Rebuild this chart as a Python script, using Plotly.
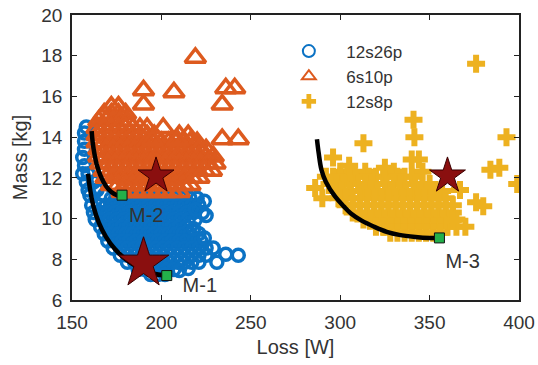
import plotly.graph_objects as go

# ---------------- data ----------------
# 12s26p (blue circles): rows of (mass, [loss values])
blue_rows = [
    (14.5, [158]), (14.2, [157]), (13.8, [157]), (13.4, [157]), (13.0, [156]),
    (12.6, [157]), (12.2, [156, 159]), (11.8, [158, 162]), (11.4, [159, 164]),
    (11.15, [160, 168]),
    (11.0, [172, 176, 180, 184, 188, 192, 196, 200, 204, 208, 212, 216, 220]),
    (10.65, [161, 165, 169, 173, 177, 181, 185, 189, 193, 197, 201, 205, 209, 213, 217, 221]),
    (10.3, [162, 166, 170, 174, 178, 182, 186, 190, 194, 198, 202, 206, 210, 214, 218, 223]),
    (9.95, [163, 167, 171, 175, 179, 183, 187, 191, 195, 199, 203, 207, 211, 215, 219]),
    (9.6, [166, 170, 174, 178, 182, 186, 190, 194, 198, 202, 206, 210, 214]),
    (9.25, [168, 172, 176, 180, 184, 188, 192, 196, 200, 204, 208, 212, 216, 221]),
    (8.9, [170, 174, 178, 182, 186, 190, 194, 198, 202, 206, 210, 214, 218, 222]),
    (8.55, [173, 177, 181, 185, 189, 193, 197, 201, 205, 209, 213, 217, 221, 225]),
    (8.2, [177, 181, 185, 189, 193, 197, 201, 205, 209, 213, 217, 221, 225]),
    (7.85, [181, 185, 189, 193, 197, 201, 205, 209, 213, 217, 221]),
    (7.5, [187, 191, 195, 199, 203, 207]),
    (7.25, [194, 198, 202]),
]
blue_extra_loss = [224, 219, 225, 218, 224, 229, 243, 236, 231, 215, 210]
blue_extra_mass = [10.85, 10.45, 10.15, 9.5, 9.05, 8.55, 8.2, 8.25, 7.85, 7.55, 7.45]

# 6s10p (orange triangles)
orange_rows = [
    (15.5, [172, 176]),
    (15.15, [168, 172, 176, 180]),
    (14.8, [165, 169, 173, 177, 181]),
    (14.45, [164, 168, 172, 176, 180, 184, 188]),
    (14.1, [164, 168, 172, 176, 180, 184, 188, 192, 196, 210, 215]),
    (13.75, [164, 168, 172, 176, 180, 184, 188, 192, 196, 200, 204, 208, 212, 216, 220]),
    (13.4, [165, 169, 173, 177, 181, 185, 189, 193, 197, 201, 205, 209, 213, 217, 221, 225]),
    (13.05, [165, 169, 173, 177, 181, 185, 189, 193, 197, 201, 205, 209, 213, 217, 221, 225, 229]),
    (12.7, [166, 170, 174, 178, 182, 186, 190, 194, 198, 202, 206, 210, 214, 218, 222, 226, 230]),
    (12.35, [168, 172, 176, 180, 184, 188, 192, 196, 200, 204, 208, 212, 216, 220, 224, 228]),
    (12.0, [169, 173, 177, 181, 185, 189, 193, 197, 201, 205, 209, 213, 217, 221]),
    (11.65, [172, 176, 180, 184, 188, 192, 196, 200, 204, 208, 212, 216]),
    (11.3, [178, 182, 186, 190, 194, 198, 202, 206, 210]),
]
orange_extra_loss = [219, 190, 190, 207, 236, 241, 234, 234, 243, 192, 201, 195, 209]
orange_extra_mass = [17.9, 16.3, 15.6, 16.2, 16.4, 16.4, 15.6, 13.9, 13.9, 14.45, 14.45, 13.85, 13.85]

# 12s8p (yellow plus)
yellow_rows = [
    (12.3, [300, 314, 330, 346]),
    (12.05, [292, 296, 300, 304, 308, 316, 320, 324, 332, 336, 340]),
    (11.7, [294, 298, 302, 306, 310, 314, 318, 326, 330, 334, 342, 346, 350]),
    (11.35, [297, 301, 305, 313, 317, 321, 325, 329, 333, 337, 341, 345, 349, 353, 357]),
    (11.0, [299, 303, 307, 311, 315, 319, 323, 327, 331, 335, 339, 343, 347, 351, 355, 359]),
    (10.65, [303, 307, 311, 315, 319, 323, 327, 331, 335, 339, 343, 347, 351, 355, 359, 363]),
    (10.3, [307, 311, 315, 319, 323, 327, 331, 335, 339, 343, 347, 351, 355, 359, 363]),
    (9.95, [313, 317, 321, 325, 329, 333, 337, 341, 345, 349, 353, 357, 361, 365]),
    (9.6, [320, 324, 328, 332, 336, 340, 344, 348, 352, 356, 360, 365, 370]),
    (9.3, [328, 332, 336, 340, 344, 348, 352, 356]),
]
yellow_extra_loss = [376, 341, 341.5, 313, 296, 340, 344, 393, 399, 384, 389, 376, 380, 367, 363, 305, 325, 286, 290]
yellow_extra_mass = [17.6, 14.85, 14.0, 13.7, 13.0, 12.9, 12.9, 14.0, 11.7, 12.4, 12.5, 10.8, 10.6, 11.4, 9.9, 12.6, 12.5, 11.5, 11.0]

# Pareto fronts
front1_loss = [159, 160, 162, 165, 169, 174, 180, 187, 195, 203]
front1_mass = [12.2, 11.5, 10.6, 9.8, 9.1, 8.5, 8.0, 7.6, 7.3, 7.2]
front2_loss = [161, 161.5, 162.5, 164, 166, 169, 172, 175, 178]
front2_mass = [14.3, 13.8, 13.2, 12.6, 12.1, 11.6, 11.3, 11.15, 11.1]
front3_loss = [287, 288, 289.5, 292, 297, 302, 306, 312, 319, 326, 333, 342, 350, 355]
front3_mass = [13.9, 13.2, 12.4, 11.8, 11.1, 10.6, 10.25, 9.9, 9.6, 9.35, 9.2, 9.1, 9.05, 9.05]

# selected designs
sel_loss = [203, 178, 355.5]
sel_mass = [7.2, 11.15, 9.05]
sel_labels = ["M-1", "M-2", "M-3"]
label_loss = [221.5, 191.5, 368.5]
label_mass = [6.65, 10.1, 7.8]

# stars
star_loss = [190, 197, 360]
star_mass = [7.8, 12.1, 12.1]
star_size = [38, 27, 27]

x_ticks = [150, 200, 250, 300, 350, 400]
y_ticks = [6, 8, 10, 12, 14, 16, 18, 20]


def flatten(rows, ex_l, ex_m):
    L, M = [], []
    for m, ls in rows:
        for l in ls:
            L.append(l)
            M.append(m)
    return L + ex_l, M + ex_m


bl, bm = flatten(blue_rows, blue_extra_loss, blue_extra_mass)
ol, om = flatten(orange_rows, orange_extra_loss, orange_extra_mass)
yl, ym = flatten(yellow_rows, yellow_extra_loss, yellow_extra_mass)

BLUE = "#0b72c4"
ORANGE = "#dd5a1e"
YELLOW = "#edb120"
FONT = "Liberation Sans, Arial, sans-serif"
TXT = "#333333"

fig = go.Figure()
fig.add_trace(go.Scatter(x=bl, y=bm, mode="markers", name="12s26p",
                         marker=dict(symbol="circle-open", size=12, color=BLUE, opacity=1,
                                     line=dict(width=3.5, color=BLUE))))
fig.add_trace(go.Scatter(x=ol, y=om, mode="markers", name="6s10p",
                         marker=dict(symbol="triangle-up-open", size=18, color=ORANGE, opacity=1,
                                     line=dict(width=3.5, color=ORANGE))))
fig.add_trace(go.Scatter(x=yl, y=ym, mode="markers", name="12s8p",
                         marker=dict(symbol="cross", size=15, color=YELLOW, opacity=1,
                                     line=dict(width=0))))
for fl, fm in [(front1_loss, front1_mass), (front2_loss, front2_mass), (front3_loss, front3_mass)]:
    fig.add_trace(go.Scatter(x=fl, y=fm, mode="lines", showlegend=False,
                             line=dict(color="black", width=4.5, shape="spline")))
fig.add_trace(go.Scatter(x=star_loss, y=star_mass, mode="markers", showlegend=False,
                         marker=dict(symbol="star", size=star_size, color="#8a0f0f", opacity=1,
                                     line=dict(width=1, color="#3a0000"))))
fig.add_trace(go.Scatter(x=sel_loss, y=sel_mass, mode="markers", showlegend=False,
                         marker=dict(symbol="square", size=10, color="#23b04a", opacity=1,
                                     line=dict(width=1, color="#111111"))))
fig.add_trace(go.Scatter(x=label_loss, y=label_mass, mode="text", text=sel_labels,
                         showlegend=False, textfont=dict(family=FONT, size=20, color=TXT)))

axis_common = dict(showline=True, linecolor="#222222", linewidth=1.5, mirror="ticks",
                   ticks="inside", ticklen=5, tickcolor="#222222", showgrid=False,
                   zeroline=False, automargin=False,
                   tickfont=dict(family=FONT, size=19, color=TXT))
fig.update_xaxes(range=[150, 400], tickvals=x_ticks, ticklabelstandoff=4,
                 title=dict(text="Loss [W]", standoff=8,
                            font=dict(family=FONT, size=20, color=TXT)), **axis_common)
fig.update_yaxes(range=[6, 20], tickvals=y_ticks, ticklabelstandoff=4,
                 title=dict(text="Mass [kg]", standoff=8,
                            font=dict(family=FONT, size=20, color=TXT)), **axis_common)

fig.update_layout(
    width=538, height=365,
    margin=dict(l=72, r=19, t=15, b=65),
    paper_bgcolor="white", plot_bgcolor="white",
    legend=dict(x=0.446, y=0.935, xanchor="left", yanchor="top", bgcolor="rgba(0,0,0,0)",
                font=dict(family=FONT, size=17, color=TXT), tracegroupgap=0,
                itemsizing="constant", itemwidth=65),
)
fig.write_html("out.html", config={"displayModeBar": False},
               post_script="document.body.style.margin='0';document.body.style.overflow='hidden';")
